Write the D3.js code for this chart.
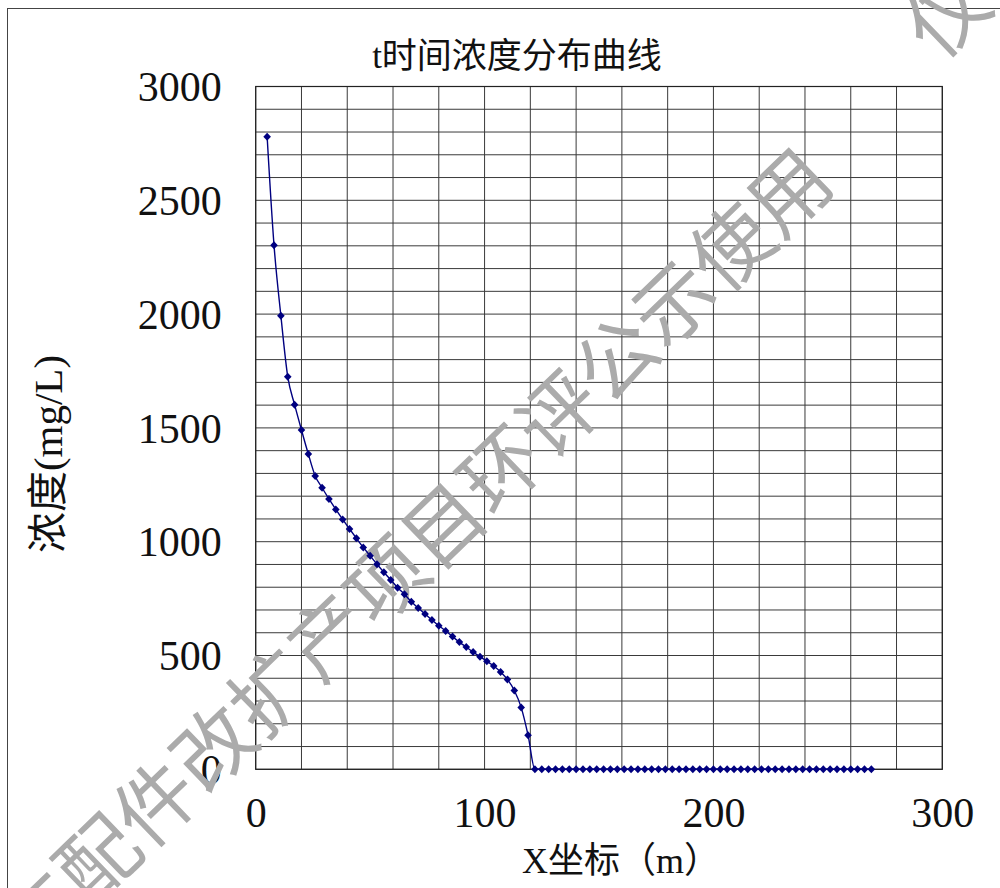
<!DOCTYPE html>
<html>
<head>
<meta charset="utf-8">
<script src="https://cdn.jsdelivr.net/npm/d3@7"></script>
<style>
  html, body { margin: 0; padding: 0; background: #fff; }
  svg { display: block; }
  .serif { font-family: "Liberation Serif", "Noto Sans CJK SC", serif; }
</style>
</head>
<body>
<svg id="chart" width="1000" height="888"></svg>
<script>
// Distance along the X axis (m)
const xCoord = [
  5, 8, 11, 14, 17, 20, 23, 26, 29, 32, 35, 38, 41, 44, 47, 50, 53, 56, 59, 62,
  65, 68, 71, 74, 77, 80, 83, 86, 89, 92, 95, 98, 101, 104, 107, 110, 113, 116, 119, 122,
  125, 128, 131, 134, 137, 140, 143, 146, 149, 152, 155, 158, 161, 164, 167, 170, 173, 176, 179, 182,
  185, 188, 191, 194, 197, 200, 203, 206, 209, 212, 215, 218, 221, 224, 227, 230, 233, 236, 239, 242,
  245, 248, 251, 254, 257, 260, 263, 266, 269
];
// Concentration at time t (mg/L)
const concentration = [
  2779, 2303, 1993, 1725, 1602, 1491, 1385, 1289, 1237, 1188, 1142, 1098, 1056, 1015, 975, 938, 901, 866, 832, 798,
  769, 736, 709, 682, 656, 631, 608, 583, 559, 537, 515, 495, 475, 454, 428, 395, 346, 272, 150, 0,
  0, 0, 0, 0, 0, 0, 0, 0, 0, 0, 0, 0, 0, 0, 0, 0, 0, 0, 0, 0,
  0, 0, 0, 0, 0, 0, 0, 0, 0, 0, 0, 0, 0, 0, 0, 0, 0, 0, 0, 0,
  0, 0, 0, 0, 0, 0, 0, 0, 0
];
const xTickLabels = [0, 100, 200, 300];
const yTickLabels = [0, 500, 1000, 1500, 2000, 2500, 3000];
const xGridValues = d3.range(0, 301, 20);
const yGridValues = d3.range(0, 3001, 100);

const chartTitle = "t时间浓度分布曲线";
const xTitle = "X坐标（m）";
const yTitle = "浓度(mg/L)";
const watermarkMain = "车配件改扩产项目环评公示使用";
const watermarkTop = "仅供";

const points = xCoord.map((x, i) => ({ x, y: concentration[i] }));

const svg = d3.select("#chart");

// outer chart border
svg.append("rect")
  .attr("x", 7.5).attr("y", 8.5)
  .attr("width", 1100).attr("height", 1000)
  .attr("fill", "none").attr("stroke", "#444").attr("stroke-width", 1);

const plot = { left: 255.7, right: 942.3, top: 86.5, bottom: 769.3 };
const x = d3.scaleLinear().domain([0, 300]).range([plot.left, plot.right]);
const y = d3.scaleLinear().domain([0, 3000]).range([plot.bottom, plot.top]);

// grid
const grid = svg.append("g");
grid.selectAll("line.v").data(xGridValues).join("line")
  .attr("x1", d => x(d)).attr("x2", d => x(d))
  .attr("y1", plot.top).attr("y2", plot.bottom)
  .attr("stroke", "#3a3a3a").attr("stroke-width", 1);
grid.selectAll("line.h").data(yGridValues).join("line")
  .attr("y1", d => y(d)).attr("y2", d => y(d))
  .attr("x1", plot.left).attr("x2", plot.right)
  .attr("stroke", "#3a3a3a").attr("stroke-width", 1);
grid.append("rect")
  .attr("x", plot.left).attr("y", plot.top)
  .attr("width", plot.right - plot.left).attr("height", plot.bottom - plot.top)
  .attr("fill", "none").attr("stroke", "#222").attr("stroke-width", 1.2);

// axes (labels only)
const yAxis = svg.append("g")
  .attr("transform", `translate(${plot.left},0)`)
  .call(d3.axisLeft(y).tickValues(yTickLabels).tickSize(0).tickPadding(34).tickFormat(d3.format("d")));
const xAxis = svg.append("g")
  .attr("transform", `translate(0,${plot.bottom})`)
  .call(d3.axisBottom(x).tickValues(xTickLabels).tickSize(0).tickPadding(28).tickFormat(d3.format("d")));
[xAxis, yAxis].forEach(a => {
  a.select(".domain").remove();
  a.selectAll("text")
    .attr("class", "serif")
    .attr("font-size", 42)
    .attr("fill", "#111");
});
yAxis.selectAll("text").attr("dy", "0.34em");

// titles
svg.append("text").attr("class", "serif")
  .attr("x", 517).attr("y", 56)
  .attr("text-anchor", "middle").attr("dominant-baseline", "central")
  .attr("font-size", 35).attr("fill", "#111")
  .text(chartTitle);
svg.append("text").attr("class", "serif")
  .attr("x", 621).attr("y", 861)
  .attr("text-anchor", "middle").attr("dominant-baseline", "central")
  .attr("font-size", 36).attr("fill", "#111")
  .text(xTitle);
svg.append("text").attr("class", "serif")
  .attr("transform", "translate(48,454) rotate(-90)")
  .attr("text-anchor", "middle").attr("dominant-baseline", "central")
  .attr("font-size", 41).attr("fill", "#111")
  .text(yTitle);

// diagonal watermark text
const wm = svg.append("g")
  .attr("font-family", "'Noto Sans CJK SC', sans-serif")
  .attr("font-size", 80).attr("fill", "#ababab");
wm.append("text")
  .attr("transform", "translate(8,938) rotate(-44)")
  .attr("dominant-baseline", "central")
  .text(watermarkMain);
wm.append("text")
  .attr("transform", "translate(914,38) rotate(-44)")
  .attr("dominant-baseline", "central")
  .text(watermarkTop);

// concentration curve
const line = d3.line().x(d => x(d.x)).y(d => y(d.y)).curve(d3.curveMonotoneX);
svg.append("path").datum(points)
  .attr("d", line)
  .attr("fill", "none").attr("stroke", "#000080").attr("stroke-width", 1.4);

const diamond = "M0,-4L3.8,0L0,4L-3.8,0Z";
svg.append("g").selectAll("path").data(points).join("path")
  .attr("transform", d => `translate(${x(d.x)},${y(d.y)})`)
  .attr("d", diamond)
  .attr("fill", "#000080");
</script>
</body>
</html>
